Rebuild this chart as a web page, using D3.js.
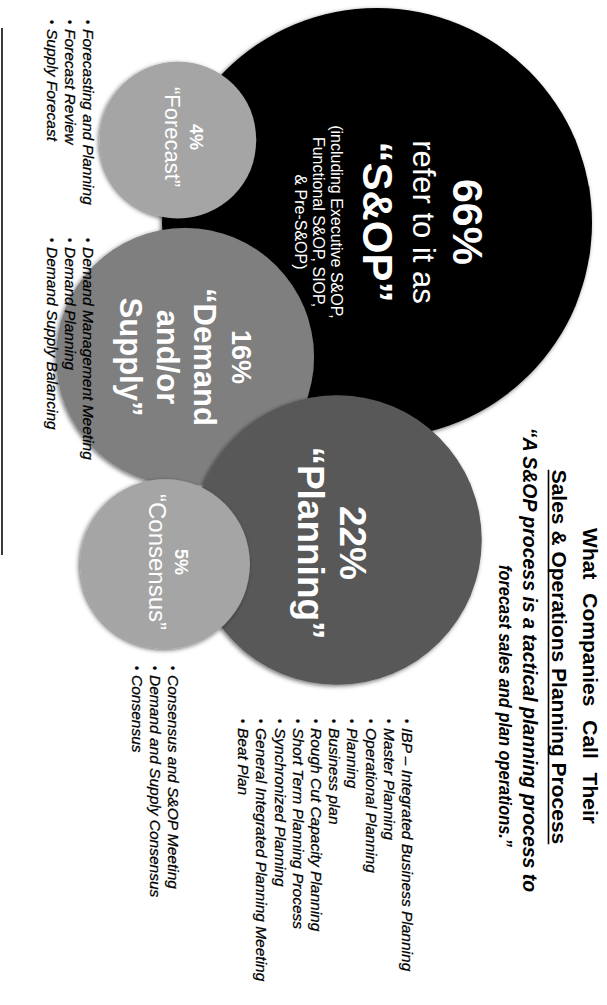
<!DOCTYPE html>
<html>
<head>
<meta charset="utf-8">
<script src="https://cdn.jsdelivr.net/npm/d3@7"></script>
<style>
  html, body { margin: 0; padding: 0; background: #ffffff; }
  svg { display: block; }
  text { font-family: "Liberation Sans", Arial, Helvetica, sans-serif; }
</style>
</head>
<body>
<svg id="chart" width="607" height="1005"></svg>
<script>
// ---- data ----
const categories = ["S&OP", "Planning", "Demand and/or Supply", "Consensus", "Forecast"];
const shares = [66, 22, 16, 5, 4];
const nameLines = [
  ["refer to it as", "“S&OP”"],
  ["“Planning”"],
  ["“Demand", "and/or", "Supply”"],
  ["“Consensus”"],
  ["“Forecast”"]
];
const sopNote = ["(including Executive S&OP,", "Functional S&OP, SIOP,", "& Pre-S&OP)"];
const aliasLists = [
  [],
  ["IBP – Integrated Business Planning", "Master Planning", "Operational Planning", "Planning",
   "Business plan", "Rough Cut Capacity Planning", "Short Term Planning Process",
   "Synchronized Planning", "General Integrated Planning Meeting", "Beat Plan"],
  ["Demand Management Meeting", "Demand Planning", "Demand Supply Balancing"],
  ["Consensus and S&OP Meeting", "Demand and Supply Consensus", "Consensus"],
  ["Forecasting and Planning", "Forecast Review", "Supply Forecast"]
];
const titleLines = [
  "What Companies Call Their",
  "Sales & Operations Planning Process",
  "“A S&OP process is a tactical planning process to",
  "forecast sales and plan operations.”"
];

// ---- layout (landscape frame, turned a quarter clockwise onto the page) ----
const PAGE_W = 607;
const circleLayout = [
  { cx: 223, cy: 230, fill: "#000000", tx: 222, pct: { dy: -76, size: 43 },
    names: [{ dy: -36, size: 31, weight: 400 }, { dy: 14, size: 42, weight: 700 }] },
  { cx: 540, cy: 270, fill: "#595959", tx: 543, pct: { dy: -3, size: 37 },
    names: [{ dy: 39, size: 37, weight: 700 }] },
  { cx: 357, cy: 422, fill: "#7f7f7f", tx: 357, pct: { dy: -47, size: 27 },
    names: [{ dy: -9, size: 31, weight: 700 }, { dy: 28, size: 31, weight: 700 }, { dy: 65, size: 31, weight: 700 }] },
  { cx: 564, cy: 442, fill: "#a5a5a5", tx: 562, pct: { dy: -10, size: 18 },
    names: [{ dy: 16, size: 24, weight: 400 }] },
  { cx: 140, cy: 429, fill: "#a5a5a5", tx: 137, pct: { dy: -12, size: 18 },
    names: [{ dy: 13, size: 22, weight: 400 }] }
];
const noteLayout = { dys: [46, 64, 82], size: 16 };
const drawOrder = [0, 4, 2, 1, 3];
const listLayout = [
  null,
  { x: 728, y0: 205, step: 18.2 },
  { x: 247, y0: 524, step: 18 },
  { x: 675, y0: 439, step: 18.2 },
  { x: 29, y0: 524, step: 18 }
];
const titleLayout = [
  { x: 676, y: 24, size: 21, weight: 700, style: "normal", wordSpacing: 8 },
  { x: 657, y: 55, size: 21, weight: 700, style: "normal", wordSpacing: 0, underline: true },
  { x: 660, y: 84, size: 19.5, weight: 700, style: "italic", wordSpacing: 0 },
  { x: 706, y: 108, size: 19, weight: 700, style: "italic", wordSpacing: 0, fit: 282 }
];

// bubble size follows the share
const radius = d3.scalePow().exponent(0.36).domain([0, d3.max(shares)]).range([0, 215]);

const svg = d3.select("#chart");
const defs = svg.append("defs");
const shadow = defs.append("filter").attr("id", "soft-shadow")
  .attr("x", "-10%").attr("y", "-10%").attr("width", "120%").attr("height", "120%");
shadow.append("feDropShadow")
  .attr("dx", 1.5).attr("dy", 1.5).attr("stdDeviation", 2)
  .attr("flood-color", "#000").attr("flood-opacity", 0.55);

const frame = svg.append("g").attr("transform", `translate(${PAGE_W},0) rotate(90)`);

// bubbles
const bubbles = drawOrder.map(i => ({ i, share: shares[i], cat: categories[i], ...circleLayout[i] }));
frame.append("g").selectAll("circle")
  .data(bubbles)
  .join("circle")
  .attr("cx", d => d.cx)
  .attr("cy", d => d.cy)
  .attr("r", d => radius(d.share))
  .attr("fill", d => d.fill)
  .attr("filter", "url(#soft-shadow)");

// bubble labels
const labels = frame.append("g").attr("fill", "#ffffff").attr("text-anchor", "middle");
bubbles.forEach(d => {
  const g = labels.append("g").attr("class", "label");
  g.append("text")
    .attr("x", d.tx).attr("y", d.cy + d.pct.dy)
    .attr("font-size", d.pct.size).attr("font-weight", 700)
    .text(`${d.share}%`);
  nameLines[d.i].forEach((line, k) => {
    const s = d.names[k];
    g.append("text")
      .attr("x", d.tx).attr("y", d.cy + s.dy)
      .attr("font-size", s.size).attr("font-weight", s.weight)
      .text(line);
  });
  if (d.i === 0) {
    sopNote.forEach((line, k) => {
      g.append("text")
        .attr("x", d.tx).attr("y", d.cy + noteLayout.dys[k])
        .attr("font-size", noteLayout.size)
        .text(line);
    });
  }
});

// alias lists
const lists = frame.append("g").attr("fill", "#000000")
  .attr("stroke", "#000000").attr("stroke-width", 0.25);
aliasLists.forEach((items, i) => {
  const L = listLayout[i];
  if (!L) return;
  const g = lists.append("g");
  items.forEach((item, k) => {
    const y = L.y0 + k * L.step;
    g.append("text").attr("x", L.x - 9).attr("y", y)
      .attr("font-size", 12).text("•");
    g.append("text").attr("x", L.x).attr("y", y)
      .attr("font-size", 15.5).attr("font-style", "italic")
      .text(item);
  });
});

// heading
const head = frame.append("g").attr("fill", "#000000").attr("text-anchor", "middle");
titleLines.forEach((line, k) => {
  const t = titleLayout[k];
  const txt = head.append("text")
    .attr("x", t.x).attr("y", t.y)
    .attr("font-size", t.size).attr("font-weight", t.weight)
    .attr("font-style", t.style).attr("word-spacing", t.wordSpacing)
    .text(line);
  if (t.fit) txt.attr("textLength", t.fit).attr("lengthAdjust", "spacingAndGlyphs");
  if (t.underline) {
    const w = txt.node().getComputedTextLength();
    head.append("line")
      .attr("x1", t.x - w / 2).attr("x2", t.x + w / 2)
      .attr("y1", t.y + 3.5).attr("y2", t.y + 3.5)
      .attr("stroke", "#000").attr("stroke-width", 1.6);
  }
});

// rule along the lower edge of the frame
frame.append("line")
  .attr("x1", 28).attr("x2", 555)
  .attr("y1", 605).attr("y2", 605)
  .attr("stroke", "#3a3a3a").attr("stroke-width", 2);
</script>
</body>
</html>
